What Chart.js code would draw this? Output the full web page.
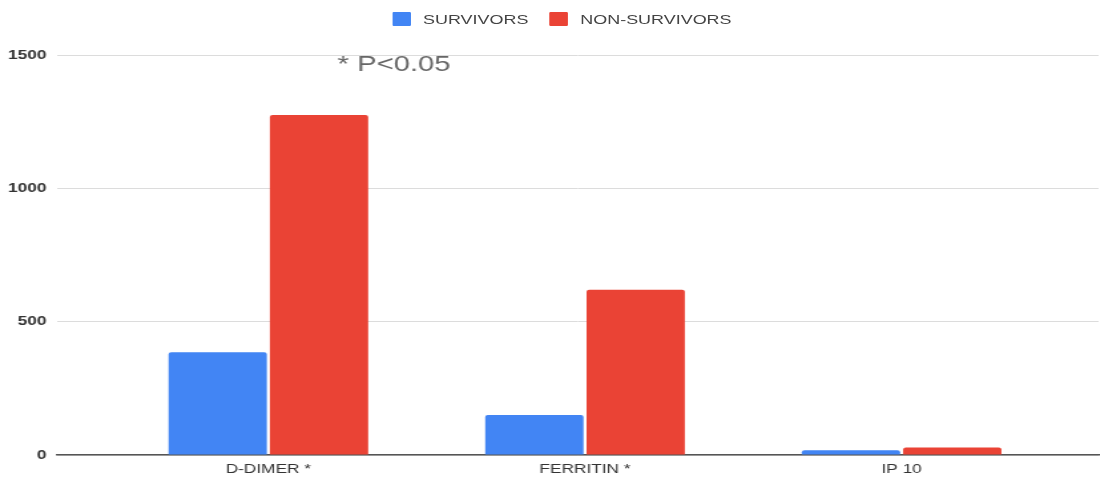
<!DOCTYPE html>
<html>
<head>
<meta charset="utf-8">
<script src="https://cdn.jsdelivr.net/npm/chart.js@4"></script>
<style>
  html, body { margin: 0; padding: 0; background: #fff; overflow: hidden; }
  /* the original picture is stretched sideways, so the whole chart is drawn narrow and widened */
  #wrap {
    position: relative; width: 827px; height: 477px;
    transform: scaleX(1.33); transform-origin: 0 0;
  }
  #legend {
    position: absolute; top: 12px; left: 295px;
    font: 13.5px "Liberation Sans", Arial, sans-serif; color: #444;
    display: flex; align-items: center; white-space: nowrap;
  }
  #legend .item { display: flex; align-items: center; height: 14px; }
  #legend .box { width: 14px; height: 14px; border-radius: 1px; margin-right: 9px; }
</style>
</head>
<body>
<div id="wrap">
  <div id="legend"></div>
  <canvas id="chart"></canvas>
</div>
<script>
// categories and values
const categories = ['D-DIMER *', 'FERRITIN *', 'IP 10'];
const seriesNames = ['SURVIVORS', 'NON-SURVIVORS'];
const survivors = [385, 150, 18];
const nonSurvivors = [1275, 620, 28];
const yTicks = [0, 500, 1000, 1500];
const note = '* P<0.05';

const COLORS = ['#4285F4', '#EA4335'];
const FONT = '"Liberation Sans", Arial, sans-serif';

// bars placed at x = 0, 1, 2 on a linear axis so the plot can start left of the first group
const toPoints = vals => vals.map((v, i) => ({ x: i, y: v }));

// html legend
const legendEl = document.getElementById('legend');
seriesNames.forEach((name, i) => {
    const item = document.createElement('div');
    item.className = 'item';
    if (i > 0) item.style.marginLeft = '16px';
    item.innerHTML = `<span class="box" style="background:${COLORS[i]}"></span><span>${name}</span>`;
    legendEl.appendChild(item);
});

// significance note inside the plot
const notePlugin = {
    id: 'note',
    afterDraw(chart) {
        const { ctx, scales } = chart;
        const x = scales.x.getPixelForValue(0.397);
        const y = scales.y.getPixelForValue(1462);
        ctx.save();
        ctx.font = '22px ' + FONT;
        ctx.fillStyle = '#666';
        ctx.textAlign = 'center';
        ctx.textBaseline = 'middle';
        ctx.fillText(note, x, y);
        ctx.restore();
    }
};

new Chart(document.getElementById('chart'), {
    type: 'bar',
    data: {
        datasets: [
            { label: seriesNames[0], data: toPoints(survivors), backgroundColor: COLORS[0], borderRadius: 2, borderSkipped: 'bottom' },
            { label: seriesNames[1], data: toPoints(nonSurvivors), backgroundColor: COLORS[1], borderRadius: 2, borderSkipped: 'bottom' }
        ]
    },
    options: {
        responsive: true,
        maintainAspectRatio: false,
        animation: false,
        layout: { padding: { top: 55, right: 1, left: 0, bottom: 0 } },
        datasets: { bar: { categoryPercentage: 0.64, barPercentage: 0.97 } },
        plugins: {
            legend: { display: false },
            tooltip: { enabled: false }
        },
        scales: {
            x: {
                type: 'linear',
                min: -0.667,
                max: 2.622,
                offset: false,
                grid: { display: false, drawTicks: false },
                border: { display: true, color: '#555', width: 1.5 },
                afterBuildTicks: scale => { scale.ticks = categories.map((c, i) => ({ value: i })); },
                afterFit: scale => { scale.height = 22; },
                ticks: {
                    padding: 7,
                    color: '#333',
                    font: { family: FONT, size: 13 },
                    callback: v => categories[v]
                }
            },
            y: {
                min: 0,
                max: 1500,
                afterBuildTicks: scale => { scale.ticks = yTicks.map(v => ({ value: v })); },
                grid: { color: '#dcdcdc', drawTicks: false },
                border: { display: false },
                afterFit: scale => { scale.width = 43; },
                ticks: {
                    padding: 8,
                    color: '#333',
                    font: { family: FONT, size: 13, weight: 'bold' },
                    callback: v => String(v)
                }
            }
        }
    },
    plugins: [notePlugin]
});
</script>
</body>
</html>
